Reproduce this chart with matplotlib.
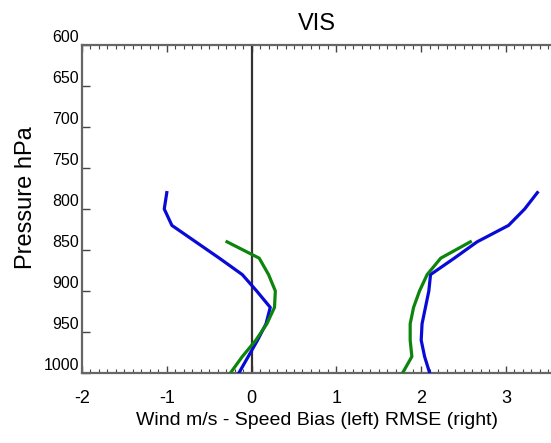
import matplotlib
matplotlib.use("Agg")
import matplotlib.pyplot as plt
from matplotlib.ticker import MultipleLocator

plt.rcParams['font.family'] = ['Liberation Sans', 'DejaVu Sans']

# Data
p_blue = [780, 800, 820, 840, 860, 880, 900, 920, 940, 960, 980, 1000]
bias_blue = [-1.00, -1.03, -0.94, -0.66, -0.38, -0.11, 0.06, 0.22, 0.17, 0.07, -0.04, -0.15]
rmse_blue = [3.37, 3.22, 3.03, 2.66, 2.39, 2.11, 2.09, 2.05, 2.01, 2.00, 2.04, 2.10]

p_green = [840, 860, 880, 900, 920, 940, 960, 980, 1000]
bias_green = [-0.29, 0.09, 0.20, 0.28, 0.27, 0.18, 0.05, -0.11, -0.25]
rmse_green = [2.58, 2.23, 2.07, 1.98, 1.91, 1.87, 1.87, 1.89, 1.78]

yticks = [600, 650, 700, 750, 800, 850, 900, 950, 1000]
xticks = [-2, -1, 0, 1, 2, 3]

fig = plt.figure(figsize=(5.51, 4.43), dpi=100)
ax = fig.add_axes([82/551, 1-373/443, 1-82/551, (373-45)/443])

blue = '#0a0ad8'
green = '#0d850d'
ax.plot(bias_blue, p_blue, color=blue, lw=2.3, zorder=3)
ax.plot(rmse_blue, p_blue, color=blue, lw=2.3, zorder=3)
ax.plot(bias_green, p_green, color=green, lw=2.3, zorder=3)
ax.plot(rmse_green, p_green, color=green, lw=2.3, zorder=3)
ax.axvline(0, color='#333333', lw=1.6, zorder=2)

ax.set_xlim(-2, (551-82)/84.8 - 2)
ax.set_ylim(1000, 600)
ax.set_xticks(xticks)
ax.set_xticklabels([str(t) for t in xticks], fontsize=13)
ax.xaxis.set_minor_locator(MultipleLocator(0.1))
ax.set_yticks(yticks)
ax.set_yticklabels([str(t) for t in yticks], fontsize=11.5)
for lab in ax.get_yticklabels():
    lab.set_verticalalignment('bottom')

ax.tick_params(axis='x', which='major', direction='in', length=5, width=1, top=True, bottom=True, pad=12, colors='#444444', labelcolor='black')
ax.tick_params(axis='x', which='minor', direction='in', length=3, width=0.8, top=True, bottom=True, colors='#444444')
ax.tick_params(axis='y', which='major', direction='in', length=6, width=1, left=True, right=False, pad=2, colors='#444444', labelcolor='black')

for s in ['left', 'bottom', 'top']:
    ax.spines[s].set_color('#666666')
    ax.spines[s].set_linewidth(1.6)
ax.spines['right'].set_visible(False)

ax.set_xlabel('Wind m/s - Speed Bias (left) RMSE (right)', fontsize=14, labelpad=4)
ax.set_ylabel('Pressure hPa', fontsize=17)
ax.yaxis.set_label_coords(-0.096, 0.534)
ax.set_title('VIS', fontsize=17, pad=10.5)

fig.savefig('out.png', dpi=100)
